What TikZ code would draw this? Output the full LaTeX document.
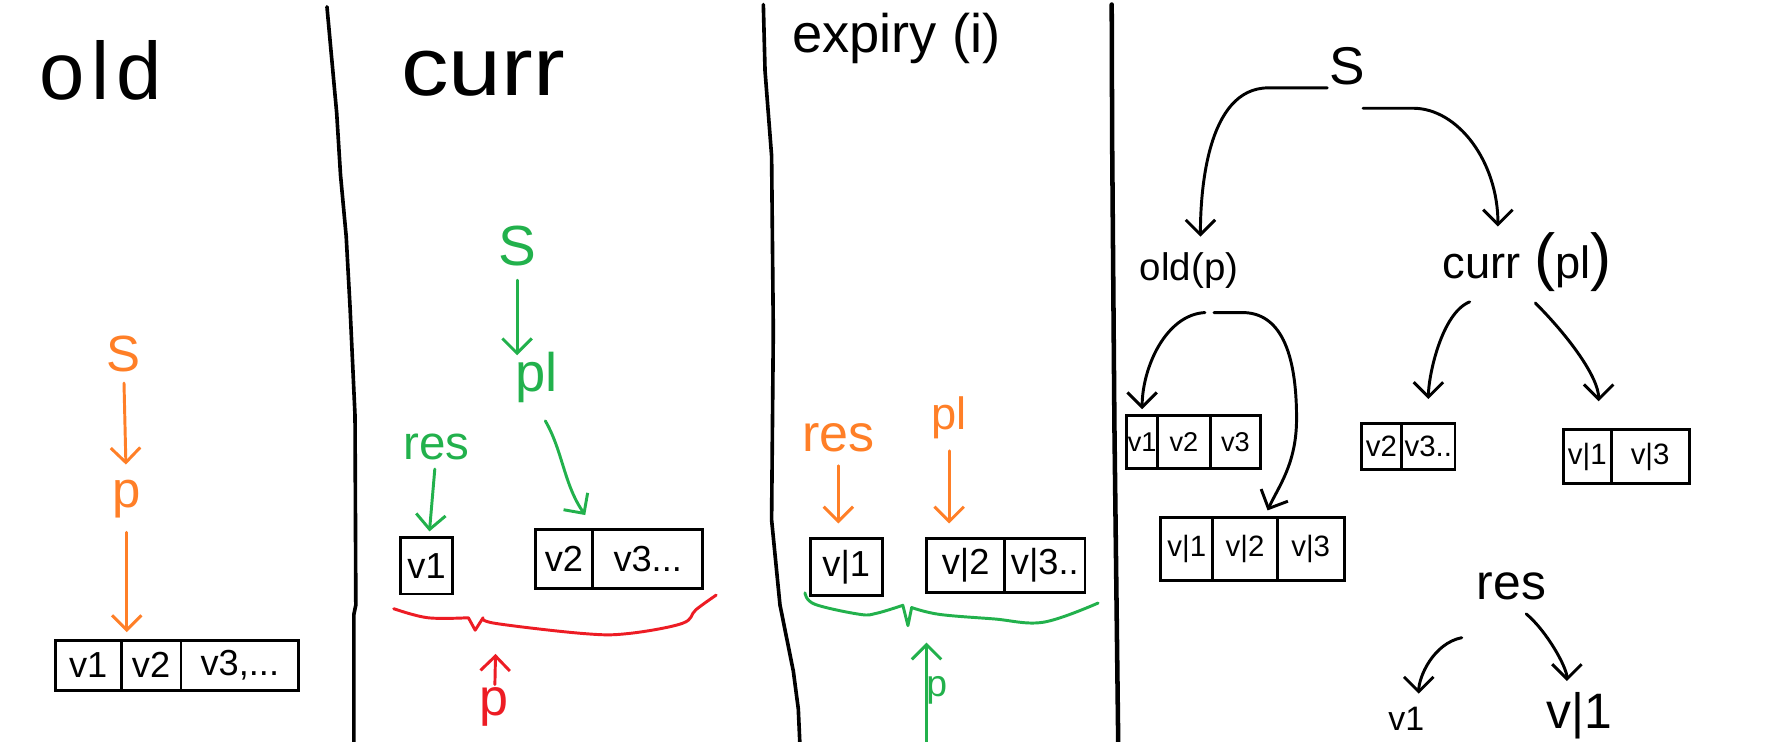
\documentclass[tikz,border=0pt]{standalone}
\usepackage{fontspec}
\setmainfont{Liberation Sans}
\usetikzlibrary{arrows.meta,calc}
\definecolor{orng}{RGB}{255,127,39}
\definecolor{grn}{RGB}{34,177,76}
\definecolor{rd}{RGB}{237,28,36}
\newcommand\hfsz[1]{\fontsize{#1}{#1}\selectfont}
\begin{document}
\begin{tikzpicture}[x=1pt,y=1pt,
  lbl/.style={inner sep=2pt},
  cell/.style={draw, line width=2.6pt, inner sep=0pt, font=\hfsz{32}},
  tcell/.style={cell, font=\hfsz{26}},
  arr/.style={line width=2.6pt, line cap=round, -{Straight Barb[length=13pt,width=26pt]}},
  oarr/.style={arr, orng}, garr/.style={arr, grn}, rarr/.style={arr, rd},
  divider/.style={line width=3.2pt, line cap=round, line join=round},
  brace/.style={line width=2.6pt, line cap=round, line join=round}]
\fill[white] (0,0) rectangle (1568,-655);
\useasboundingbox (0,0) rectangle (1568,-655);

% dividers
\draw[divider] (289,-6) -- (297.6,-100) -- (301,-155) -- (306,-209) -- (309.4,-271.5) -- (313.8,-367.6) -- (314.5,-534.7) -- (312.8,-543) -- (312.8,-660);
\draw[divider] (674.7,-4) -- (676.2,-62.7) -- (682,-137.8) -- (683.5,-292.4) -- (682,-459.5) -- (689.4,-534.7) -- (701.2,-593.2) -- (705.6,-626.6) -- (707.1,-660);
\draw[divider, line width=4pt] (982.6,-4) -- (983,-125) -- (985,-376) -- (988.4,-660);

% titles
\node[lbl, anchor=base, font=\hfsz{72}] (tOld) at (89,-88) {\addfontfeatures{LetterSpace=8}old};
\node[lbl, anchor=base, font=\hfsz{73}] (tCurr) at (427,-84) {\scalebox{1.15}[1]{curr}};
\node[lbl, anchor=base west, font=\hfsz{48}] (tExp) at (698,-46) {expiry (i)};

% ---------- panel 1 : old
\node[lbl, orng, anchor=base, font=\hfsz{45}] (S1) at (109,-328) {S};
\node[lbl, orng, anchor=base, font=\hfsz{45}] (p1) at (112,-449) {p};
\node[cell, minimum width=58pt, minimum height=44pt] (b1a) at (78,-588) {v1};
\node[cell, minimum width=53pt, minimum height=44pt] (b1b) at (133.5,-588) {v2};
\node[cell, minimum width=104pt, minimum height=44pt] (b1c) at (212,-588) {v3,...};
\draw[oarr, shorten <=8pt, shorten >=12pt] (S1) -- (p1);
\draw[oarr, shorten <=10pt, shorten >=6pt] (p1.south) -- (p1.south |- b1b.north);

% ---------- panel 2 : curr
\node[lbl, grn, anchor=base, font=\hfsz{50}] (S2) at (457,-235) {S};
\node[lbl, grn, anchor=base, font=\hfsz{48}] (pl2) at (474,-346) {pl};
\node[lbl, grn, anchor=base, font=\hfsz{42}] (res2) at (386,-406) {res};
\node[cell, minimum width=46pt, minimum height=50pt] (b2v) at (377,-500) {v1};
\node[cell, minimum width=51pt, minimum height=52pt] (b2a) at (498.5,-494) {v2};
\node[cell, minimum width=97pt, minimum height=52pt] (b2b) at (572.5,-494) {v3...};
\draw[garr, shorten <=10pt, shorten >=-5pt] (S2.south) -- (S2.south |- pl2.north);
\draw[garr, shorten <=16pt, shorten >=14pt] (pl2.south) to[out=-60, in=125] (b2a.north east);
\draw[garr, shorten <=6pt, shorten >=4pt] (res2) -- (b2v);
\draw[brace, rd] plot[smooth, tension=0.6] coordinates {(348,-538) (378,-546) (414,-546)} -- (420,-557) -- (427,-546)
  -- plot[smooth, tension=0.6] coordinates {(427,-546) (438,-551) (516,-560) (555,-560) (603,-551) (615,-539) (633,-526)};
\node[lbl, rd, anchor=base, font=\hfsz{46}] (pr) at (437,-632) {p};
\coordinate (prtip) at (438,-578);
\draw[rarr] (pr) -- (prtip);

% ---------- panel 3 : expiry
\node[lbl, orng, anchor=base, font=\hfsz{46}] (res3) at (741,-399) {res};
\node[lbl, orng, anchor=base, font=\hfsz{40}] (pl3) at (839,-380) {pl};
\node[cell, minimum width=64pt, minimum height=50pt] (b3v) at (748,-501) {v|1};
\node[cell, minimum width=69pt, minimum height=48pt] (b3a) at (853.5,-500) {v|2};
\node[cell, minimum width=71pt, minimum height=48pt] (b3b) at (923.5,-500) {v|3..};
\draw[oarr, shorten <=10pt, shorten >=12pt] (res3.south) -- (res3.south |- b3v.north);
\draw[oarr, shorten <=8pt, shorten >=12pt] (pl3.south) -- (pl3.south |- b3a.north);
\draw[brace, grn] plot[smooth, tension=0.6] coordinates {(711.5,-524) (720,-534) (760,-543) (775,-542) (798,-535)} -- (802.5,-553) -- (805.8,-537)
  -- plot[smooth, tension=0.6] coordinates {(805.8,-537) (830,-543) (878,-547) (922,-550) (970.6,-533)};
\node[lbl, grn, anchor=base, font=\hfsz{33}] (p3) at (828,-616) {p};
\coordinate (g3bot) at (819,-658);
\coordinate (g3tip) at (819,-568);
\draw[garr] (g3bot) -- (g3tip);

% ---------- panel 4 : tree
\node[lbl, anchor=base, font=\hfsz{47}] (S4) at (1191,-75) {S};
\node[lbl, anchor=base, font=\hfsz{34}] (oldp) at (1051,-248) {old(p)};
\node[lbl, anchor=base] (currpl) at (1350,-246) {\hfsz{40}curr\hspace{12pt}{\hfsz{56}(}pl{\hfsz{56})}};
\node[tcell, font=\hfsz{24}, minimum width=27pt, minimum height=47pt] (tl1) at (1009.5,-390.5) {v1};
\node[tcell, font=\hfsz{24}, minimum width=47pt, minimum height=47pt] (tl2) at (1046.5,-390.5) {v2};
\node[tcell, font=\hfsz{24}, minimum width=44pt, minimum height=47pt] (tl3) at (1092,-390.5) {v3};
\node[tcell, minimum width=46pt, minimum height=56pt] (bl1) at (1049,-485) {v|1};
\node[tcell, minimum width=57pt, minimum height=56pt] (bl2) at (1100.5,-485) {v|2};
\node[tcell, minimum width=59pt, minimum height=56pt] (bl3) at (1158.5,-485) {v|3};
\node[tcell, minimum width=36pt, minimum height=41pt] (mb1) at (1221,-394.5) {v2};
\node[tcell, minimum width=47pt, minimum height=41pt] (mb2) at (1262.5,-394.5) {v3..};
\node[tcell, minimum width=42pt, minimum height=47pt] (rb1) at (1403,-403.5) {v|1};
\node[tcell, minimum width=69pt, minimum height=47pt] (rb2) at (1458.5,-403.5) {v|3};
\node[lbl, anchor=base, font=\hfsz{44}] (res4) at (1336,-530) {res};
\node[lbl, anchor=base, font=\hfsz{30}] (v1n) at (1243,-646) {v1};
\node[lbl, anchor=base, font=\hfsz{44}] (v11n) at (1396,-644) {v|1};

\draw[arr, shorten >=12pt] (S4.south west) -- ++(-52,0) .. controls +(-55,0) and +(0,50) .. ($(oldp.north)+(10,0)$);
\draw[arr, shorten >=3pt] ($(S4.south east)+(-4,-18)$) -- ++(44,0) .. controls +(40,0) and +(0,60) .. ($(currpl.north)+(-26,0)$);

\coordinate (oldsplit) at ($(oldp.south)+(14,-19)$);
\draw[arr, shorten >=4pt] (oldsplit) .. controls +(-35,-2) and +(0,40) .. (tl1.north);
\draw[arr, shorten >=5pt] ($(oldsplit)+(8,0)$) -- ++(25,0) .. controls +(33,0) and +(0,60) .. (1146,-370)
  .. controls (1146,-410) and (1130,-430) .. ($(bl2.north east)+(-12,0)$);

\coordinate (cplL) at ($(currpl.south)+(-51,-7)$);
\coordinate (cplR) at ($(currpl.south)+(7,-8)$);
\draw[arr, shorten >=20pt] (cplL) .. controls +(-25,-10) and +(0,40) .. (mb2.north);
\draw[arr, shorten >=24pt] (cplR) .. controls +(30,-30) and +(0,45) .. ($(rb1.north)+(10,0)$);

\coordinate (resL) at ($(res4.south)+(-44,-31)$);
\coordinate (resR) at ($(res4.south)+(13,-10)$);
\draw[arr, shorten >=10pt] (resL) .. controls +(-25,-5) and +(0,25) .. ($(v1n.north)+(11,0)$);
\draw[arr, shorten >=8pt] (resR) .. controls +(18,-15) and +(0,20) .. ($(v11n.north)+(-11,0)$);
\end{tikzpicture}
\end{document}
